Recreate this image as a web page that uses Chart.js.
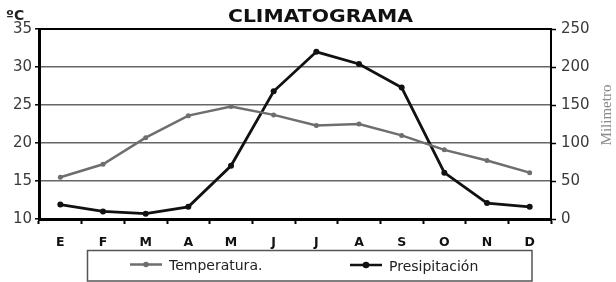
<!DOCTYPE html>
<html>
<head>
<meta charset="utf-8">
<script src="https://cdn.jsdelivr.net/npm/chart.js@4.4.1/dist/chart.umd.min.js"></script>
<style>
  html, body { margin: 0; padding: 0; background: #fff; }
  #wrap { width: 616px; height: 282px; }
</style>
</head>
<body>
<div id="wrap"><canvas id="c" width="616" height="282"></canvas></div>
<script>
const months = ['E', 'F', 'M', 'A', 'M', 'J', 'J', 'A', 'S', 'O', 'N', 'D'];
const temperatura = [15.5, 17.2, 20.7, 23.6, 24.8, 23.7, 22.3, 22.5, 21.0, 19.1, 17.7, 16.1];
const precipitacion = [19, 10, 7, 16, 70, 168, 220, 204, 173, 61, 21, 16];
const tempTicks = [10, 15, 20, 25, 30, 35];
const precTicks = [0, 50, 100, 150, 200, 250];
const titleText = 'CLIMATOGRAMA';
const leftUnit = 'ºC';
const rightUnit = 'Milimetro';
const seriesNames = ['Temperatura.', 'Presipitación'];

const TEMP_COLOR = '#6e6e6e';
const PREC_COLOR = '#111111';

const decor = {
  id: 'decor',
  afterDraw(chart) {
    const ctx = chart.ctx;
    const a = chart.chartArea;
    ctx.save();
    // top border
    ctx.strokeStyle = '#000';
    ctx.lineWidth = 2;
    ctx.beginPath();
    ctx.moveTo(a.left - 1, a.top);
    ctx.lineTo(a.right + 1, a.top);
    ctx.stroke();

    // title (slightly stretched like the reference)
    ctx.fillStyle = '#111';
    ctx.font = 'bold 17px "DejaVu Sans"';
    ctx.textBaseline = 'alphabetic';
    const w = ctx.measureText(titleText).width;
    const sx = 185 / w;
    ctx.save();
    ctx.translate(320.5, 22);
    ctx.scale(sx, 1);
    ctx.textAlign = 'center';
    ctx.fillText(titleText, 0, 0);
    ctx.restore();

    // unit left
    ctx.font = 'bold 14px "DejaVu Sans"';
    ctx.textAlign = 'left';
    ctx.fillStyle = '#222';
    ctx.fillText(leftUnit, 6, 20);

    // unit right (rotated, reading bottom to top)
    ctx.save();
    ctx.translate(611, 115);
    ctx.rotate(-Math.PI / 2);
    ctx.font = '15px "Liberation Serif"';
    ctx.fillStyle = '#8a8a8a';
    ctx.textAlign = 'center';
    ctx.textBaseline = 'alphabetic';
    ctx.fillText(rightUnit, 0, 0);
    ctx.restore();

    // legend box
    ctx.strokeStyle = '#555';
    ctx.lineWidth = 1.5;
    ctx.strokeRect(87.5, 250.5, 444.5, 30.5);

    const items = [
      { x: 130, color: TEMP_COLOR, text: chart.data.datasets[0].label, ty: 270, ly: 264.5, r: 2.3 },
      { x: 350, color: PREC_COLOR, text: chart.data.datasets[1].label, ty: 271, ly: 265, r: 2.8 }
    ];
    items.forEach(it => {
      ctx.strokeStyle = it.color;
      ctx.lineWidth = 2.5;
      ctx.beginPath();
      ctx.moveTo(it.x, it.ly);
      ctx.lineTo(it.x + 32, it.ly);
      ctx.stroke();
      ctx.fillStyle = it.color;
      ctx.beginPath();
      ctx.arc(it.x + 16, it.ly, it.r + 0.5, 0, Math.PI * 2);
      ctx.fill();
      ctx.fillStyle = '#222';
      ctx.font = '14px "DejaVu Sans"';
      ctx.textAlign = 'left';
      ctx.textBaseline = 'alphabetic';
      ctx.fillText(it.text, it.x + 39, it.ty);
    });
    ctx.restore();
  }
};

new Chart(document.getElementById('c'), {
  type: 'line',
  data: {
    labels: months,
    datasets: [
      {
        label: seriesNames[0],
        data: temperatura,
        yAxisID: 'y',
        borderColor: TEMP_COLOR,
        backgroundColor: TEMP_COLOR,
        borderWidth: 2.5,
        pointRadius: 2.5,
        pointBorderWidth: 0,
        tension: 0,
        fill: false
      },
      {
        label: seriesNames[1],
        data: precipitacion,
        yAxisID: 'y1',
        borderColor: PREC_COLOR,
        backgroundColor: PREC_COLOR,
        borderWidth: 2.8,
        pointRadius: 3,
        pointBorderWidth: 0,
        tension: 0,
        fill: false
      }
    ]
  },
  options: {
    responsive: false,
    animation: false,
    devicePixelRatio: 1,
    layout: { padding: { top: 29, bottom: 32, left: 0, right: 0 } },
    plugins: {
      legend: { display: false },
      title: { display: false },
      tooltip: { enabled: false }
    },
    scales: {
      x: {
        offset: true,
        grid: {
          offset: true,
          drawOnChartArea: false,
          drawTicks: true,
          tickLength: 5,
          tickColor: '#000',
          tickWidth: 2
        },
        border: { display: true, color: '#000', width: 3 },
        ticks: {
          font: { family: 'DejaVu Sans', size: 12.5, weight: 'bold' },
          color: '#111',
          padding: 11,
          maxRotation: 0,
          autoSkip: false
        },
        afterFit(s) { s.height = 31; }
      },
      y: {
        position: 'left',
        min: tempTicks[0],
        max: tempTicks[tempTicks.length - 1],
        afterBuildTicks(s) { s.ticks = tempTicks.map(v => ({ value: v })); },
        ticks: {
          font: { family: 'DejaVu Sans', size: 15 },
          color: '#3a3a3a',
          padding: 3
        },
        grid: {
          color: (c) => (c.tick && (c.tick.value === tempTicks[0] || c.tick.value === tempTicks[tempTicks.length - 1])) ? 'rgba(0,0,0,0)' : '#666',
          lineWidth: 1.6,
          tickLength: 4,
          tickColor: '#000',
          tickWidth: 1.5
        },
        border: { display: true, color: '#000', width: 3 },
        afterFit(s) { s.width = 39; }
      },
      y1: {
        position: 'right',
        min: precTicks[0],
        max: precTicks[precTicks.length - 1],
        afterBuildTicks(s) { s.ticks = precTicks.map(v => ({ value: v })); },
        ticks: {
          font: { family: 'DejaVu Sans', size: 15 },
          color: '#3a3a3a',
          padding: 5
        },
        grid: {
          drawOnChartArea: false,
          tickLength: 5,
          tickColor: '#000',
          tickWidth: 1.5
        },
        border: { display: true, color: '#000', width: 2 },
        afterFit(s) { s.width = 65; }
      }
    }
  },
  plugins: [decor]
});
</script>
</body>
</html>
